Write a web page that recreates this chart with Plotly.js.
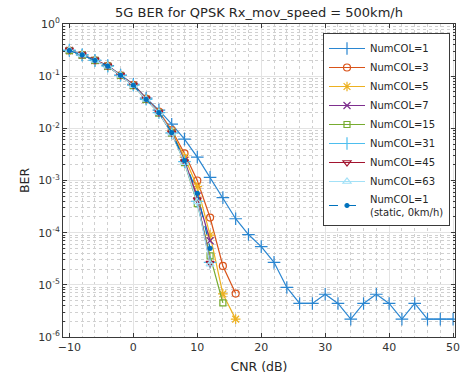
<!DOCTYPE html>
<html>
<head>
<meta charset="utf-8">
<script src="https://cdn.plot.ly/plotly-3.0.1.min.js"></script>
<style>html,body{margin:0;padding:0;background:#fff;}#chart{width:464px;height:381px;}</style>
</head>
<body>
<div id="chart"></div>
<script>
// CNR (dB) axes
const cnrFull = [-10,-8,-6,-4,-2,0,2,4,6,8,10,12,14,16,18,20,22,24,26,28,30,32,34,36,38,40,42,44,46,48,50];
const cnrTo16 = [-10,-8,-6,-4,-2,0,2,4,6,8,10,12,14,16];
const cnrTo14 = [-10,-8,-6,-4,-2,0,2,4,6,8,10,12,14];
const cnrTo12 = [-10,-8,-6,-4,-2,0,2,4,6,8,10,12];

// BER values
const berCol1   = [0.31,0.255,0.2,0.16,0.105,0.07,0.038,0.0224,0.012,0.0062,0.0028,0.00115,4.7e-4,1.85e-4,9.2e-5,5.4e-5,2.7e-5,8.9e-6,4.4e-6,4.4e-6,6.6e-6,4.4e-6,2.2e-6,4.4e-6,6.6e-6,4.4e-6,2.2e-6,4.4e-6,2.2e-6,2.2e-6,2.2e-6];
const berCol3   = [0.31,0.255,0.2,0.157,0.104,0.068,0.037,0.021,0.0093,0.0033,1.0e-3,1.95e-4,2.3e-5,6.8e-6];
const berCol5   = [0.31,0.256,0.2,0.156,0.103,0.067,0.036,0.020,0.0088,0.0028,7.6e-4,9.0e-5,6.7e-6,2.2e-6];
const berCol7   = [0.31,0.255,0.2,0.155,0.103,0.067,0.036,0.020,0.0083,0.0024,5.0e-4,7.0e-5];
const berCol15  = [0.31,0.254,0.2,0.155,0.103,0.066,0.036,0.0195,0.0081,0.0022,3.6e-4,3.6e-5,4.5e-6];
const berCol31  = [0.315,0.256,0.2,0.156,0.103,0.067,0.036,0.020,0.0082,0.0023,4.0e-4,2.7e-5];
const berCol45  = [0.32,0.26,0.205,0.158,0.105,0.068,0.037,0.020,0.0082,0.0023,4.3e-4,2.6e-5];
const berCol63  = [0.315,0.256,0.2,0.155,0.103,0.066,0.036,0.0198,0.0081,0.0022,3.9e-4,2.5e-5];
const berStatic = [0.31,0.255,0.2,0.156,0.104,0.067,0.036,0.020,0.0083,0.0024,5.7e-4,5.0e-5];

const yTickVals = [1,0.1,0.01,0.001,1e-4,1e-5,1e-6];
const yTickText = ['10<sup>0</sup>','10<sup>-1</sup>','10<sup>-2</sup>','10<sup>-3</sup>','10<sup>-4</sup>','10<sup>-5</sup>','10<sup>-6</sup>'];

function tr(name, x, y, color, symbol, size, dash) {
  return {
    type: 'scatter', mode: 'lines+markers', name: name, x: x, y: y,
    line: {color: color, width: 1.2, dash: dash || 'solid'},
    marker: {symbol: symbol, size: size, color: color, line: {color: color, width: 1.2}}
  };
}

const data = [
  tr('NumCOL=1', cnrFull, berCol1, '#2a86d1', 'cross-thin-open', 9),
  tr('NumCOL=3', cnrTo16, berCol3, '#D95319', 'circle-open', 7),
  tr('NumCOL=5', cnrTo16, berCol5, '#EDB120', 'asterisk-open', 8),
  tr('NumCOL=7', cnrTo12, berCol7, '#7E2F8E', 'x-thin-open', 7),
  tr('NumCOL=15', cnrTo14, berCol15, '#77AC30', 'square-open', 6),
  tr('NumCOL=31', cnrTo12, berCol31, '#4DBEEE', 'cross-thin-open', 9),
  tr('NumCOL=45', cnrTo12, berCol45, '#A2142F', 'triangle-down-open', 7),
  tr('NumCOL=63', cnrTo12, berCol63, '#a3e1f7', 'triangle-up-open', 7),
  tr('NumCOL=1<br>(static, 0km/h)', cnrTo12, berStatic, '#0072BD', 'circle', 4, 'dash')
];

const axisCommon = {
  showline: true, linecolor: '#3a3a3a', linewidth: 1, mirror: 'ticks',
  ticks: 'inside', ticklen: 4, tickcolor: '#3a3a3a',
  showgrid: true, gridcolor: '#e3e3e3', gridwidth: 1,
  zeroline: false,
  tickfont: {family: 'DejaVu Sans', size: 11, color: '#333'}
};

const layout = {
  width: 464, height: 381,
  margin: {l: 63, r: 9, t: 24, b: 44},
  paper_bgcolor: '#fff', plot_bgcolor: '#fff',
  font: {family: 'DejaVu Sans', color: '#262626'},
  title: {text: '5G BER for QPSK Rx_mov_speed = 500km/h', x: 0.5, xref: 'paper', xanchor: 'center',
          y: 1 - 12/381, yref: 'container', yanchor: 'middle',
          font: {family: 'DejaVu Sans', size: 13, color: '#262626'}},
  xaxis: Object.assign({}, axisCommon, {
    range: [-11, 50.3], dtick: 10, tick0: 0,
    minor: {dtick: 2, showgrid: true, griddash: 'dot', gridcolor: '#d0d0d0', gridwidth: 1, ticks: ''},
    title: {text: 'CNR (dB)', standoff: 9, font: {family: 'DejaVu Sans', size: 12.5, color: '#262626'}}
  }),
  yaxis: Object.assign({}, axisCommon, {
    type: 'log', range: [-6, 0],
    tickvals: yTickVals, ticktext: yTickText,
    minor: {dtick: 'D1', showgrid: true, griddash: 'dot', gridcolor: '#d0d0d0', gridwidth: 1, ticks: 'inside', ticklen: 2, tickcolor: '#3a3a3a'},
    title: {text: 'BER', standoff: 5, font: {family: 'DejaVu Sans', size: 12.5, color: '#262626'}}
  }),
  showlegend: true,
  legend: {
    x: (323-63)/392, y: (337-33)/313, xanchor: 'left', yanchor: 'top',
    bgcolor: '#fff', bordercolor: '#3a3a3a', borderwidth: 1,
    font: {family: 'DejaVu Sans', size: 10, color: '#262626'},
    itemwidth: 36, tracegroupgap: 0
  }
};

Plotly.newPlot('chart', data, layout, {displayModeBar: false, staticPlot: true});
</script>
</body>
</html>
